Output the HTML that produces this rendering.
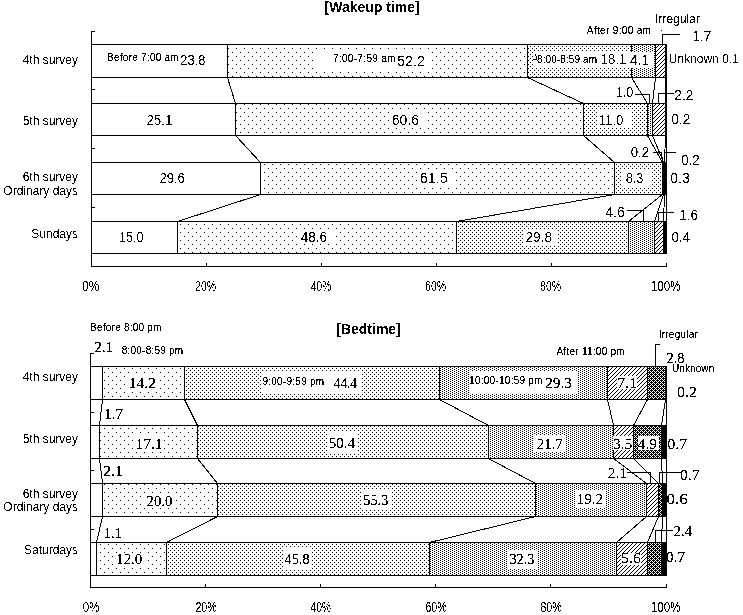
<!DOCTYPE html>
<html><head><meta charset="utf-8"><style>html,body{margin:0;padding:0;background:#fff;width:743px;height:615px;overflow:hidden}svg{display:block}text{fill:#000}</style></head>
<body><svg width="743" height="615" viewBox="0 0 743 615" shape-rendering="crispEdges"><defs>
<pattern id="p8" width="8" height="8" patternUnits="userSpaceOnUse"><rect width="8" height="8" fill="#fff"/><rect x="0" y="4" width="1" height="1" fill="#000"/><rect x="4" y="0" width="1" height="1" fill="#000"/></pattern>
<pattern id="p4" width="4" height="4" patternUnits="userSpaceOnUse"><rect width="4" height="4" fill="#fff"/><rect x="0" y="0" width="1" height="1" fill="#000"/><rect x="2" y="2" width="1" height="1" fill="#000"/></pattern>
<pattern id="p25" width="4" height="2" patternUnits="userSpaceOnUse"><rect width="4" height="2" fill="#fff"/><rect x="0" y="0" width="1" height="1" fill="#000"/><rect x="2" y="1" width="1" height="1" fill="#000"/></pattern>
<pattern id="ph" width="4" height="4" patternUnits="userSpaceOnUse"><rect width="4" height="4" fill="#fff"/><rect x="3" y="0" width="1" height="1" fill="#000"/><rect x="2" y="1" width="1" height="1" fill="#000"/><rect x="1" y="2" width="1" height="1" fill="#000"/><rect x="0" y="3" width="1" height="1" fill="#000"/></pattern>
<pattern id="pc" width="4" height="4" patternUnits="userSpaceOnUse"><rect width="4" height="4" fill="#000"/><rect x="3" y="0" width="1" height="1" fill="#fff"/><rect x="0" y="1" width="1" height="1" fill="#fff"/><rect x="2" y="1" width="1" height="1" fill="#fff"/><rect x="1" y="2" width="1" height="1" fill="#fff"/><rect x="0" y="3" width="1" height="1" fill="#fff"/><rect x="2" y="3" width="1" height="1" fill="#fff"/></pattern>
<filter id="bin" x="0" y="0" width="743" height="615" filterUnits="userSpaceOnUse"><feComponentTransfer><feFuncA type="discrete" tableValues="0 1"/></feComponentTransfer></filter>
<filter id="bin3" x="0" y="0" width="743" height="615" filterUnits="userSpaceOnUse"><feComponentTransfer><feFuncA type="discrete" tableValues="0 0 1 1 1"/></feComponentTransfer></filter>
<filter id="bin2" x="0" y="0" width="743" height="615" filterUnits="userSpaceOnUse"><feComponentTransfer><feFuncA type="discrete" tableValues="0 1 1"/></feComponentTransfer></filter>
</defs><rect x="0" y="0" width="743" height="615" fill="#fff"/><rect x="91" y="44" width="136" height="33" fill="#fff"/><rect x="227" y="44" width="300" height="33" fill="url(#p8)"/><rect x="527" y="44" width="104" height="33" fill="url(#p4)"/><rect x="631" y="44" width="24" height="33" fill="url(#p25)"/><rect x="655" y="44" width="10" height="33" fill="url(#ph)"/><rect x="665" y="44" width="1" height="33" fill="#000"/><rect x="91" y="44" width="576" height="1"/><rect x="91" y="77" width="576" height="1"/><rect x="91" y="44" width="1" height="34"/><rect x="227" y="44" width="1" height="34"/><rect x="527" y="44" width="1" height="34"/><rect x="631" y="44" width="1" height="34"/><rect x="655" y="44" width="1" height="34"/><rect x="665" y="44" width="1" height="34"/><rect x="666" y="44" width="1" height="34"/><rect x="665" y="44" width="1" height="34"/><rect x="666" y="44" width="1" height="34"/><rect x="91" y="103" width="144" height="32" fill="#fff"/><rect x="235" y="103" width="348" height="32" fill="url(#p8)"/><rect x="583" y="103" width="64" height="32" fill="url(#p4)"/><rect x="647" y="103" width="5" height="32" fill="url(#p25)"/><rect x="652" y="103" width="13" height="32" fill="url(#ph)"/><rect x="665" y="103" width="1" height="32" fill="#000"/><rect x="91" y="103" width="576" height="1"/><rect x="91" y="135" width="576" height="1"/><rect x="91" y="103" width="1" height="33"/><rect x="235" y="103" width="1" height="33"/><rect x="583" y="103" width="1" height="33"/><rect x="647" y="103" width="1" height="33"/><rect x="652" y="103" width="1" height="33"/><rect x="665" y="103" width="1" height="33"/><rect x="666" y="103" width="1" height="33"/><rect x="665" y="103" width="1" height="33"/><rect x="666" y="103" width="1" height="33"/><rect x="91" y="162" width="169" height="32" fill="#fff"/><rect x="260" y="162" width="354" height="32" fill="url(#p8)"/><rect x="614" y="162" width="48" height="32" fill="url(#p4)"/><rect x="662" y="162" width="1" height="32" fill="url(#p25)"/><rect x="663" y="162" width="1" height="32" fill="url(#ph)"/><rect x="664" y="162" width="2" height="32" fill="#000"/><rect x="91" y="162" width="576" height="1"/><rect x="91" y="194" width="576" height="1"/><rect x="91" y="162" width="1" height="33"/><rect x="260" y="162" width="1" height="33"/><rect x="614" y="162" width="1" height="33"/><rect x="662" y="162" width="1" height="33"/><rect x="663" y="162" width="1" height="33"/><rect x="664" y="162" width="1" height="33"/><rect x="666" y="162" width="1" height="33"/><rect x="665" y="162" width="1" height="33"/><rect x="666" y="162" width="1" height="33"/><rect x="91" y="221" width="86" height="32" fill="#fff"/><rect x="177" y="221" width="279" height="32" fill="url(#p8)"/><rect x="456" y="221" width="172" height="32" fill="url(#p4)"/><rect x="628" y="221" width="26" height="32" fill="url(#p25)"/><rect x="654" y="221" width="9" height="32" fill="url(#ph)"/><rect x="663" y="221" width="3" height="32" fill="#000"/><rect x="91" y="221" width="576" height="1"/><rect x="91" y="253" width="576" height="1"/><rect x="91" y="221" width="1" height="33"/><rect x="177" y="221" width="1" height="33"/><rect x="456" y="221" width="1" height="33"/><rect x="628" y="221" width="1" height="33"/><rect x="654" y="221" width="1" height="33"/><rect x="663" y="221" width="1" height="33"/><rect x="666" y="221" width="1" height="33"/><rect x="665" y="221" width="1" height="33"/><rect x="666" y="221" width="1" height="33"/><line x1="227.5" y1="77.5" x2="235.5" y2="103.5" stroke="#000" stroke-width="1"/><line x1="527.5" y1="77.5" x2="583.5" y2="103.5" stroke="#000" stroke-width="1"/><line x1="631.5" y1="77.5" x2="647.5" y2="103.5" stroke="#000" stroke-width="1"/><line x1="655.5" y1="77.5" x2="652.5" y2="103.5" stroke="#000" stroke-width="1"/><line x1="665.5" y1="77.5" x2="665.5" y2="103.5" stroke="#000" stroke-width="1"/><rect x="666" y="77" width="1" height="27"/><line x1="235.5" y1="135.5" x2="260.5" y2="162.5" stroke="#000" stroke-width="1"/><line x1="583.5" y1="135.5" x2="614.5" y2="162.5" stroke="#000" stroke-width="1"/><line x1="647.5" y1="135.5" x2="662.5" y2="162.5" stroke="#000" stroke-width="1"/><line x1="652.5" y1="135.5" x2="663.5" y2="162.5" stroke="#000" stroke-width="1"/><line x1="665.5" y1="135.5" x2="664.5" y2="162.5" stroke="#000" stroke-width="1"/><rect x="666" y="135" width="1" height="28"/><line x1="260.5" y1="194.5" x2="177.5" y2="221.5" stroke="#000" stroke-width="1"/><line x1="614.5" y1="194.5" x2="456.5" y2="221.5" stroke="#000" stroke-width="1"/><line x1="662.5" y1="194.5" x2="628.5" y2="221.5" stroke="#000" stroke-width="1"/><line x1="663.5" y1="194.5" x2="654.5" y2="221.5" stroke="#000" stroke-width="1"/><line x1="664.5" y1="194.5" x2="663.5" y2="221.5" stroke="#000" stroke-width="1"/><rect x="666" y="194" width="1" height="28"/><rect x="91" y="31" width="1" height="236"/><rect x="91" y="31" width="4" height="1"/><rect x="91" y="89" width="4" height="1"/><rect x="91" y="148" width="4" height="1"/><rect x="91" y="207" width="4" height="1"/><rect x="91" y="266" width="576" height="1"/><rect x="206" y="263" width="1" height="4"/><rect x="321" y="263" width="1" height="4"/><rect x="436" y="263" width="1" height="4"/><rect x="551" y="263" width="1" height="4"/><rect x="666" y="263" width="1" height="4"/><rect x="315" y="49" width="114" height="22" fill="#fff"/><rect x="533" y="52" width="99" height="16" fill="#fff"/><rect x="632" y="52" width="22" height="16" fill="#fff"/><rect x="390" y="110" width="35" height="18" fill="#fff"/><rect x="597" y="110" width="35" height="18" fill="#fff"/><rect x="417" y="169" width="38" height="18" fill="#fff"/><rect x="622" y="170" width="29" height="17" fill="#fff"/><rect x="298" y="229" width="37" height="15" fill="#fff"/><rect x="523" y="229" width="35" height="17" fill="#fff"/><rect x="662" y="34" width="18" height="1"/><rect x="662" y="34" width="1" height="11"/><rect x="661" y="30" width="1" height="1" fill="#000"/><rect x="533" y="59" width="4" height="1"/><rect x="536" y="56" width="1" height="4"/><rect x="535" y="54" width="1" height="2"/><rect x="635" y="94" width="15" height="1"/><rect x="649" y="94" width="1" height="10"/><rect x="658" y="93" width="16" height="1"/><rect x="658" y="93" width="1" height="11"/><rect x="653" y="152" width="9" height="1"/><line x1="661.5" y1="152.5" x2="662.5" y2="162" stroke="#000" stroke-width="1"/><rect x="664" y="152" width="12" height="1"/><rect x="627" y="210" width="17" height="1"/><rect x="643" y="210" width="1" height="12"/><rect x="658" y="212" width="16" height="1"/><rect x="658" y="212" width="1" height="10"/><rect x="90" y="366" width="12" height="33" fill="#fff"/><rect x="102" y="366" width="82" height="33" fill="url(#p8)"/><rect x="184" y="366" width="255" height="33" fill="url(#p4)"/><rect x="439" y="366" width="168" height="33" fill="url(#p25)"/><rect x="607" y="366" width="40" height="33" fill="url(#ph)"/><rect x="647" y="366" width="18" height="33" fill="url(#pc)"/><rect x="665" y="366" width="1" height="33" fill="#000"/><rect x="90" y="366" width="577" height="1"/><rect x="90" y="399" width="577" height="1"/><rect x="90" y="366" width="1" height="34"/><rect x="102" y="366" width="1" height="34"/><rect x="184" y="366" width="1" height="34"/><rect x="439" y="366" width="1" height="34"/><rect x="607" y="366" width="1" height="34"/><rect x="647" y="366" width="1" height="34"/><rect x="665" y="366" width="1" height="34"/><rect x="666" y="366" width="1" height="34"/><rect x="665" y="366" width="1" height="34"/><rect x="666" y="366" width="1" height="34"/><rect x="90" y="425" width="9" height="33" fill="#fff"/><rect x="99" y="425" width="98" height="33" fill="url(#p8)"/><rect x="197" y="425" width="291" height="33" fill="url(#p4)"/><rect x="488" y="425" width="125" height="33" fill="url(#p25)"/><rect x="613" y="425" width="20" height="33" fill="url(#ph)"/><rect x="633" y="425" width="28" height="33" fill="url(#pc)"/><rect x="661" y="425" width="5" height="33" fill="#000"/><rect x="90" y="425" width="577" height="1"/><rect x="90" y="458" width="577" height="1"/><rect x="90" y="425" width="1" height="34"/><rect x="99" y="425" width="1" height="34"/><rect x="197" y="425" width="1" height="34"/><rect x="488" y="425" width="1" height="34"/><rect x="613" y="425" width="1" height="34"/><rect x="633" y="425" width="1" height="34"/><rect x="661" y="425" width="1" height="34"/><rect x="666" y="425" width="1" height="34"/><rect x="665" y="425" width="1" height="34"/><rect x="666" y="425" width="1" height="34"/><rect x="90" y="483" width="12" height="33" fill="#fff"/><rect x="102" y="483" width="115" height="33" fill="url(#p8)"/><rect x="217" y="483" width="318" height="33" fill="url(#p4)"/><rect x="535" y="483" width="111" height="33" fill="url(#p25)"/><rect x="646" y="483" width="12" height="33" fill="url(#ph)"/><rect x="658" y="483" width="4" height="33" fill="url(#pc)"/><rect x="662" y="483" width="4" height="33" fill="#000"/><rect x="90" y="483" width="577" height="1"/><rect x="90" y="516" width="577" height="1"/><rect x="90" y="483" width="1" height="34"/><rect x="102" y="483" width="1" height="34"/><rect x="217" y="483" width="1" height="34"/><rect x="535" y="483" width="1" height="34"/><rect x="646" y="483" width="1" height="34"/><rect x="658" y="483" width="1" height="34"/><rect x="662" y="483" width="1" height="34"/><rect x="666" y="483" width="1" height="34"/><rect x="665" y="483" width="1" height="34"/><rect x="666" y="483" width="1" height="34"/><rect x="90" y="542" width="6" height="33" fill="#fff"/><rect x="96" y="542" width="70" height="33" fill="url(#p8)"/><rect x="166" y="542" width="263" height="33" fill="url(#p4)"/><rect x="429" y="542" width="187" height="33" fill="url(#p25)"/><rect x="616" y="542" width="31" height="33" fill="url(#ph)"/><rect x="647" y="542" width="14" height="33" fill="url(#pc)"/><rect x="661" y="542" width="5" height="33" fill="#000"/><rect x="90" y="542" width="577" height="1"/><rect x="90" y="575" width="577" height="1"/><rect x="90" y="542" width="1" height="34"/><rect x="96" y="542" width="1" height="34"/><rect x="166" y="542" width="1" height="34"/><rect x="429" y="542" width="1" height="34"/><rect x="616" y="542" width="1" height="34"/><rect x="647" y="542" width="1" height="34"/><rect x="661" y="542" width="1" height="34"/><rect x="666" y="542" width="1" height="34"/><rect x="665" y="542" width="1" height="34"/><rect x="666" y="542" width="1" height="34"/><line x1="102.5" y1="399.5" x2="99.5" y2="425.5" stroke="#000" stroke-width="1"/><line x1="184.5" y1="399.5" x2="197.5" y2="425.5" stroke="#000" stroke-width="1"/><line x1="439.5" y1="399.5" x2="488.5" y2="425.5" stroke="#000" stroke-width="1"/><line x1="607.5" y1="399.5" x2="613.5" y2="425.5" stroke="#000" stroke-width="1"/><line x1="647.5" y1="399.5" x2="633.5" y2="425.5" stroke="#000" stroke-width="1"/><line x1="665.5" y1="399.5" x2="661.5" y2="425.5" stroke="#000" stroke-width="1"/><rect x="666" y="399" width="1" height="27"/><line x1="99.5" y1="458.5" x2="102.5" y2="483.5" stroke="#000" stroke-width="1"/><line x1="197.5" y1="458.5" x2="217.5" y2="483.5" stroke="#000" stroke-width="1"/><line x1="488.5" y1="458.5" x2="535.5" y2="483.5" stroke="#000" stroke-width="1"/><line x1="613.5" y1="458.5" x2="646.5" y2="483.5" stroke="#000" stroke-width="1"/><line x1="633.5" y1="458.5" x2="658.5" y2="483.5" stroke="#000" stroke-width="1"/><line x1="661.5" y1="458.5" x2="662.5" y2="483.5" stroke="#000" stroke-width="1"/><rect x="666" y="458" width="1" height="26"/><line x1="102.5" y1="516.5" x2="96.5" y2="542.5" stroke="#000" stroke-width="1"/><line x1="217.5" y1="516.5" x2="166.5" y2="542.5" stroke="#000" stroke-width="1"/><line x1="535.5" y1="516.5" x2="429.5" y2="542.5" stroke="#000" stroke-width="1"/><line x1="646.5" y1="516.5" x2="616.5" y2="542.5" stroke="#000" stroke-width="1"/><line x1="658.5" y1="516.5" x2="647.5" y2="542.5" stroke="#000" stroke-width="1"/><line x1="662.5" y1="516.5" x2="661.5" y2="542.5" stroke="#000" stroke-width="1"/><rect x="666" y="516" width="1" height="27"/><rect x="90" y="353" width="1" height="235"/><rect x="90" y="353" width="4" height="1"/><rect x="90" y="412" width="4" height="1"/><rect x="90" y="470" width="4" height="1"/><rect x="90" y="529" width="4" height="1"/><rect x="90" y="587" width="577" height="1"/><rect x="205" y="584" width="1" height="4"/><rect x="320" y="584" width="1" height="4"/><rect x="435" y="584" width="1" height="4"/><rect x="550" y="584" width="1" height="4"/><rect x="666" y="584" width="1" height="4"/><rect x="126" y="374" width="32" height="18" fill="#fff"/><rect x="261" y="371" width="100" height="23" fill="#fff"/><rect x="469" y="371" width="108" height="23" fill="#fff"/><rect x="617" y="376" width="20" height="13" fill="#fff"/><rect x="621" y="553" width="20" height="12" fill="#fff"/><rect x="133" y="434" width="31" height="18" fill="#fff"/><rect x="328" y="431" width="30" height="23" fill="#fff"/><rect x="534" y="435" width="32" height="17" fill="#fff"/><rect x="613" y="436" width="20" height="14" fill="#fff"/><rect x="638" y="436" width="21" height="14" fill="#fff"/><rect x="143" y="494" width="32" height="13" fill="#fff"/><rect x="361" y="490" width="31" height="20" fill="#fff"/><rect x="575" y="490" width="31" height="18" fill="#fff"/><rect x="116" y="553" width="30" height="14" fill="#fff"/><rect x="283" y="548" width="29" height="21" fill="#fff"/><rect x="507" y="550" width="31" height="19" fill="#fff"/><rect x="655" y="344" width="1" height="24"/><rect x="655" y="344" width="5" height="1"/><rect x="627" y="472" width="24" height="1"/><rect x="650" y="472" width="1" height="12"/><rect x="659" y="472" width="22" height="1"/><rect x="659" y="472" width="1" height="12"/><rect x="655" y="530" width="18" height="1"/><rect x="655" y="530" width="1" height="13"/><text id="t0" filter="url(#bin)" x="324.55" y="11.80" font-family="Liberation Sans" font-size="14" text-anchor="start" font-weight="bold">[Wakeup time]</text><text id="t1" filter="url(#bin)" x="78.00" y="64.18" font-family="Liberation Sans" font-size="12" text-anchor="end" font-weight="normal">4th survey</text><text id="t2" filter="url(#bin)" x="78.00" y="125.07" font-family="Liberation Sans" font-size="12" text-anchor="end" font-weight="normal">5th survey</text><text id="t3" filter="url(#bin)" x="78.00" y="181.31" font-family="Liberation Sans" font-size="12" text-anchor="end" font-weight="normal">6th survey</text><text id="t4" filter="url(#bin)" x="78.00" y="194.76" font-family="Liberation Sans" font-size="12" text-anchor="end" font-weight="normal">Ordinary days</text><text id="t5" filter="url(#bin)" x="78.00" y="237.93" font-family="Liberation Sans" font-size="12" text-anchor="end" font-weight="normal">Sundays</text><text id="t6" filter="url(#bin3)" x="107.08" y="61.41" font-family="Liberation Sans" font-size="10" text-anchor="start" font-weight="normal" textLength="71.63" lengthAdjust="spacing">Before 7:00 am</text><text id="t7" filter="url(#bin3)" x="332.89" y="62.10" font-family="Liberation Sans" font-size="10" text-anchor="start" font-weight="normal" textLength="62.64" lengthAdjust="spacing">7:00-7:59 am</text><text id="t8" filter="url(#bin3)" x="537.00" y="62.80" font-family="Liberation Sans" font-size="10" text-anchor="start" font-weight="normal" textLength="60.08" lengthAdjust="spacing">8:00-8:59 am</text><text id="t9" filter="url(#bin3)" x="586.84" y="33.74" font-family="Liberation Sans" font-size="10" text-anchor="start" font-weight="normal" textLength="64.07" lengthAdjust="spacing">After 9:00 am</text><text id="t10" filter="url(#bin)" x="655.12" y="23.35" font-family="Liberation Sans" font-size="12" text-anchor="start" font-weight="normal">Irregular</text><text id="t11" filter="url(#bin)" x="668.82" y="62.80" font-family="Liberation Sans" font-size="12" text-anchor="start" font-weight="normal">Unknown 0.1</text><text id="t12" filter="url(#bin)" x="180.26" y="64.78" font-family="Liberation Sans" font-size="14" text-anchor="start" font-weight="normal" textLength="25.14" lengthAdjust="spacingAndGlyphs">23.8</text><text id="t13" filter="url(#bin)" x="397.31" y="65.79" font-family="Liberation Sans" font-size="14" text-anchor="start" font-weight="normal" textLength="27.52" lengthAdjust="spacingAndGlyphs">52.2</text><text id="t14" filter="url(#bin)" x="600.78" y="64.00" font-family="Liberation Sans" font-size="14" text-anchor="start" font-weight="normal" textLength="25.65" lengthAdjust="spacingAndGlyphs">18.1</text><text id="t15" filter="url(#bin)" x="630.00" y="64.71" font-family="Liberation Sans" font-size="14" text-anchor="start" font-weight="normal" textLength="19.00" lengthAdjust="spacingAndGlyphs">4.1</text><text id="t16" filter="url(#bin)" x="692.52" y="40.90" font-family="Liberation Sans" font-size="14" text-anchor="start" font-weight="normal" textLength="18.61" lengthAdjust="spacingAndGlyphs">1.7</text><text id="t17" filter="url(#bin)" x="146.42" y="124.91" font-family="Liberation Sans" font-size="14" text-anchor="start" font-weight="normal" textLength="25.95" lengthAdjust="spacingAndGlyphs">25.1</text><text id="t18" filter="url(#bin)" x="391.78" y="124.91" font-family="Liberation Sans" font-size="14" text-anchor="start" font-weight="normal" textLength="27.44" lengthAdjust="spacingAndGlyphs">60.6</text><text id="t19" filter="url(#bin)" x="598.73" y="124.91" font-family="Liberation Sans" font-size="14" text-anchor="start" font-weight="normal" textLength="24.70" lengthAdjust="spacingAndGlyphs">11.0</text><text id="t20" filter="url(#bin)" x="615.89" y="96.79" font-family="Liberation Sans" font-size="14" text-anchor="start" font-weight="normal" textLength="17.48" lengthAdjust="spacingAndGlyphs">1.0</text><text id="t21" filter="url(#bin)" x="674.26" y="100.18" font-family="Liberation Sans" font-size="14" text-anchor="start" font-weight="normal" textLength="19.12" lengthAdjust="spacingAndGlyphs">2.2</text><text id="t22" filter="url(#bin)" x="671.26" y="124.00" font-family="Liberation Sans" font-size="14" text-anchor="start" font-weight="normal" textLength="19.06" lengthAdjust="spacingAndGlyphs">0.2</text><text id="t23" filter="url(#bin)" x="159.42" y="182.91" font-family="Liberation Sans" font-size="14" text-anchor="start" font-weight="normal" textLength="25.45" lengthAdjust="spacingAndGlyphs">29.6</text><text id="t24" filter="url(#bin)" x="419.89" y="182.91" font-family="Liberation Sans" font-size="14" text-anchor="start" font-weight="normal" textLength="27.88" lengthAdjust="spacingAndGlyphs">61.5</text><text id="t25" filter="url(#bin)" x="625.63" y="183.07" font-family="Liberation Sans" font-size="14" text-anchor="start" font-weight="normal" textLength="17.80" lengthAdjust="spacingAndGlyphs">8.3</text><text id="t26" filter="url(#bin)" x="630.63" y="157.41" font-family="Liberation Sans" font-size="14" text-anchor="start" font-weight="normal" textLength="18.46" lengthAdjust="spacingAndGlyphs">0.2</text><text id="t27" filter="url(#bin)" x="681.26" y="164.71" font-family="Liberation Sans" font-size="14" text-anchor="start" font-weight="normal" textLength="18.50" lengthAdjust="spacingAndGlyphs">0.2</text><text id="t28" filter="url(#bin)" x="670.26" y="183.07" font-family="Liberation Sans" font-size="14" text-anchor="start" font-weight="normal" textLength="19.50" lengthAdjust="spacingAndGlyphs">0.3</text><text id="t29" filter="url(#bin)" x="118.89" y="242.34" font-family="Liberation Sans" font-size="14" text-anchor="start" font-weight="normal" textLength="24.75" lengthAdjust="spacingAndGlyphs">15.0</text><text id="t30" filter="url(#bin)" x="300.79" y="242.34" font-family="Liberation Sans" font-size="14" text-anchor="start" font-weight="normal" textLength="26.30" lengthAdjust="spacingAndGlyphs">48.6</text><text id="t31" filter="url(#bin)" x="525.42" y="241.91" font-family="Liberation Sans" font-size="14" text-anchor="start" font-weight="normal" textLength="26.57" lengthAdjust="spacingAndGlyphs">29.8</text><text id="t32" filter="url(#bin)" x="605.26" y="217.00" font-family="Liberation Sans" font-size="14" text-anchor="start" font-weight="normal" textLength="19.68" lengthAdjust="spacingAndGlyphs">4.6</text><text id="t33" filter="url(#bin)" x="679.15" y="219.59" font-family="Liberation Sans" font-size="14" text-anchor="start" font-weight="normal" textLength="19.10" lengthAdjust="spacingAndGlyphs">1.6</text><text id="t34" filter="url(#bin)" x="671.42" y="241.91" font-family="Liberation Sans" font-size="14" text-anchor="start" font-weight="normal" textLength="18.57" lengthAdjust="spacingAndGlyphs">0.4</text><text id="t35" filter="url(#bin)" x="82.12" y="291.00" font-family="Liberation Sans" font-size="14" text-anchor="start" font-weight="normal" textLength="17.24" lengthAdjust="spacingAndGlyphs">0%</text><text id="t36" filter="url(#bin)" x="195.10" y="291.00" font-family="Liberation Sans" font-size="14" text-anchor="start" font-weight="normal" textLength="21.00" lengthAdjust="spacingAndGlyphs">20%</text><text id="t37" filter="url(#bin)" x="311.00" y="291.00" font-family="Liberation Sans" font-size="14" text-anchor="start" font-weight="normal" textLength="20.05" lengthAdjust="spacingAndGlyphs">40%</text><text id="t38" filter="url(#bin)" x="425.10" y="291.00" font-family="Liberation Sans" font-size="14" text-anchor="start" font-weight="normal" textLength="21.00" lengthAdjust="spacingAndGlyphs">60%</text><text id="t39" filter="url(#bin)" x="540.10" y="291.00" font-family="Liberation Sans" font-size="14" text-anchor="start" font-weight="normal" textLength="21.00" lengthAdjust="spacingAndGlyphs">80%</text><text id="t40" filter="url(#bin)" x="650.75" y="291.00" font-family="Liberation Sans" font-size="14" text-anchor="start" font-weight="normal" textLength="29.87" lengthAdjust="spacingAndGlyphs">100%</text><text id="t41" filter="url(#bin)" x="336.22" y="333.62" font-family="Liberation Sans" font-size="14" text-anchor="start" font-weight="bold">[Bedtime]</text><text id="t42" filter="url(#bin)" x="78.00" y="381.30" font-family="Liberation Sans" font-size="12" text-anchor="end" font-weight="normal">4th survey</text><text id="t43" filter="url(#bin)" x="78.00" y="443.26" font-family="Liberation Sans" font-size="12" text-anchor="end" font-weight="normal">5th survey</text><text id="t44" filter="url(#bin)" x="78.00" y="497.57" font-family="Liberation Sans" font-size="12" text-anchor="end" font-weight="normal">6th survey</text><text id="t45" filter="url(#bin)" x="78.00" y="510.89" font-family="Liberation Sans" font-size="12" text-anchor="end" font-weight="normal">Ordinary days</text><text id="t46" filter="url(#bin)" x="78.00" y="554.48" font-family="Liberation Sans" font-size="12" text-anchor="end" font-weight="normal">Saturdays</text><text id="t47" filter="url(#bin3)" x="90.10" y="330.86" font-family="Liberation Sans" font-size="10" text-anchor="start" font-weight="normal" textLength="71.41" lengthAdjust="spacing">Before 8:00 pm</text><text id="t48" filter="url(#bin3)" x="121.79" y="354.35" font-family="Liberation Sans" font-size="10" text-anchor="start" font-weight="normal" textLength="61.35" lengthAdjust="spacing">8:00-8:59 pm</text><text id="t49" filter="url(#bin3)" x="262.42" y="384.61" font-family="Liberation Sans" font-size="10" text-anchor="start" font-weight="normal" textLength="61.73" lengthAdjust="spacing">9:00-9:59 pm</text><text id="t50" filter="url(#bin3)" x="469.10" y="383.66" font-family="Liberation Sans" font-size="10" text-anchor="start" font-weight="normal" textLength="73.41" lengthAdjust="spacing">10:00-10:59 pm</text><text id="t51" filter="url(#bin3)" x="556.42" y="354.79" font-family="Liberation Sans" font-size="10" text-anchor="start" font-weight="normal" textLength="68.27" lengthAdjust="spacing">After 11:00 pm</text><text id="t52" filter="url(#bin3)" x="658.73" y="337.98" font-family="Liberation Sans" font-size="10" text-anchor="start" font-weight="normal" textLength="39.08" lengthAdjust="spacing">Irregular</text><text id="t53" filter="url(#bin3)" x="671.89" y="371.70" font-family="Liberation Sans" font-size="10" text-anchor="start" font-weight="normal" textLength="42.33" lengthAdjust="spacing">Unknown</text><text id="t54" filter="url(#bin3)" x="94.63" y="352.25" font-family="Liberation Serif" font-size="14" text-anchor="start" font-weight="normal" textLength="18.16" lengthAdjust="spacingAndGlyphs">2.1</text><text id="t55" filter="url(#bin3)" x="128.78" y="388.00" font-family="Liberation Serif" font-size="14" text-anchor="start" font-weight="normal" textLength="27.15" lengthAdjust="spacingAndGlyphs">14.2</text><text id="t56" filter="url(#bin3)" x="333.79" y="388.34" font-family="Liberation Serif" font-size="14" text-anchor="start" font-weight="normal" textLength="23.13" lengthAdjust="spacingAndGlyphs">44.4</text><text id="t57" filter="url(#bin3)" x="545.26" y="388.34" font-family="Liberation Serif" font-size="14" text-anchor="start" font-weight="normal" textLength="26.65" lengthAdjust="spacingAndGlyphs">29.3</text><text id="t58" filter="url(#bin3)" x="617.05" y="388.14" font-family="Liberation Serif" font-size="14" text-anchor="start" font-weight="normal" textLength="20.15" lengthAdjust="spacingAndGlyphs">7.1</text><text id="t59" filter="url(#bin3)" x="666.42" y="362.92" font-family="Liberation Serif" font-size="14" text-anchor="start" font-weight="normal" textLength="18.13" lengthAdjust="spacingAndGlyphs">2.8</text><text id="t60" filter="url(#bin3)" x="677.10" y="396.53" font-family="Liberation Serif" font-size="14" text-anchor="start" font-weight="normal" textLength="19.98" lengthAdjust="spacingAndGlyphs">0.2</text><text id="t61" filter="url(#bin3)" x="104.15" y="419.26" font-family="Liberation Serif" font-size="14" text-anchor="start" font-weight="normal" textLength="18.77" lengthAdjust="spacingAndGlyphs">1.7</text><text id="t62" filter="url(#bin3)" x="135.52" y="449.26" font-family="Liberation Serif" font-size="14" text-anchor="start" font-weight="normal" textLength="26.91" lengthAdjust="spacingAndGlyphs">17.1</text><text id="t63" filter="url(#bin3)" x="328.73" y="447.64" font-family="Liberation Serif" font-size="14" text-anchor="start" font-weight="normal" textLength="26.30" lengthAdjust="spacingAndGlyphs">50.4</text><text id="t64" filter="url(#bin3)" x="536.68" y="449.26" font-family="Liberation Serif" font-size="14" text-anchor="start" font-weight="normal" textLength="26.15" lengthAdjust="spacingAndGlyphs">21.7</text><text id="t65" filter="url(#bin3)" x="613.10" y="449.26" font-family="Liberation Serif" font-size="14" text-anchor="start" font-weight="normal" textLength="19.11" lengthAdjust="spacingAndGlyphs">3.5</text><text id="t66" filter="url(#bin3)" x="637.84" y="449.26" font-family="Liberation Serif" font-size="14" text-anchor="start" font-weight="normal" textLength="19.20" lengthAdjust="spacingAndGlyphs">4.9</text><text id="t67" filter="url(#bin3)" x="667.31" y="449.26" font-family="Liberation Serif" font-size="14" text-anchor="start" font-weight="normal" textLength="19.91" lengthAdjust="spacingAndGlyphs">0.7</text><text id="t68" filter="url(#bin3)" x="103.26" y="476.44" font-family="Liberation Serif" font-size="14" text-anchor="start" font-weight="normal" textLength="19.48" lengthAdjust="spacingAndGlyphs">2.1</text><text id="t69" filter="url(#bin3)" x="146.63" y="505.63" font-family="Liberation Serif" font-size="14" text-anchor="start" font-weight="normal" textLength="25.80" lengthAdjust="spacingAndGlyphs">20.0</text><text id="t70" filter="url(#bin3)" x="363.26" y="504.70" font-family="Liberation Serif" font-size="14" text-anchor="start" font-weight="normal" textLength="25.06" lengthAdjust="spacingAndGlyphs">55.3</text><text id="t71" filter="url(#bin3)" x="576.57" y="504.34" font-family="Liberation Serif" font-size="14" text-anchor="start" font-weight="normal" textLength="26.59" lengthAdjust="spacingAndGlyphs">19.2</text><text id="t72" filter="url(#bin3)" x="607.68" y="477.91" font-family="Liberation Serif" font-size="14" text-anchor="start" font-weight="normal" textLength="19.38" lengthAdjust="spacingAndGlyphs">2.1</text><text id="t73" filter="url(#bin3)" x="680.10" y="479.60" font-family="Liberation Serif" font-size="14" text-anchor="start" font-weight="normal" textLength="19.41" lengthAdjust="spacingAndGlyphs">0.7</text><text id="t74" filter="url(#bin3)" x="666.31" y="503.86" font-family="Liberation Serif" font-size="14" text-anchor="start" font-weight="normal" textLength="21.76" lengthAdjust="spacingAndGlyphs">0.6</text><text id="t75" filter="url(#bin3)" x="103.73" y="537.63" font-family="Liberation Serif" font-size="14" text-anchor="start" font-weight="normal" textLength="18.05" lengthAdjust="spacingAndGlyphs">1.1</text><text id="t76" filter="url(#bin3)" x="116.25" y="564.08" font-family="Liberation Serif" font-size="14" text-anchor="start" font-weight="normal" textLength="26.00" lengthAdjust="spacingAndGlyphs">12.0</text><text id="t77" filter="url(#bin3)" x="284.63" y="564.37" font-family="Liberation Serif" font-size="14" text-anchor="start" font-weight="normal" textLength="24.86" lengthAdjust="spacingAndGlyphs">45.8</text><text id="t78" filter="url(#bin3)" x="509.42" y="564.34" font-family="Liberation Serif" font-size="14" text-anchor="start" font-weight="normal" textLength="24.95" lengthAdjust="spacingAndGlyphs">32.3</text><text id="t79" filter="url(#bin3)" x="621.10" y="563.13" font-family="Liberation Serif" font-size="14" text-anchor="start" font-weight="normal" textLength="19.73" lengthAdjust="spacingAndGlyphs">5.6</text><text id="t80" filter="url(#bin3)" x="673.42" y="535.99" font-family="Liberation Serif" font-size="14" text-anchor="start" font-weight="normal" textLength="18.74" lengthAdjust="spacingAndGlyphs">2.4</text><text id="t81" filter="url(#bin3)" x="666.10" y="562.10" font-family="Liberation Serif" font-size="14" text-anchor="start" font-weight="normal" textLength="19.11" lengthAdjust="spacingAndGlyphs">0.7</text><text id="t82" filter="url(#bin)" x="82.86" y="611.91" font-family="Liberation Sans" font-size="14" text-anchor="start" font-weight="normal" textLength="16.58" lengthAdjust="spacingAndGlyphs">0%</text><text id="t83" filter="url(#bin)" x="195.42" y="611.91" font-family="Liberation Sans" font-size="14" text-anchor="start" font-weight="normal" textLength="21.27" lengthAdjust="spacingAndGlyphs">20%</text><text id="t84" filter="url(#bin)" x="310.42" y="611.91" font-family="Liberation Sans" font-size="14" text-anchor="start" font-weight="normal" textLength="20.61" lengthAdjust="spacingAndGlyphs">40%</text><text id="t85" filter="url(#bin)" x="425.42" y="611.91" font-family="Liberation Sans" font-size="14" text-anchor="start" font-weight="normal" textLength="21.27" lengthAdjust="spacingAndGlyphs">60%</text><text id="t86" filter="url(#bin)" x="540.42" y="611.91" font-family="Liberation Sans" font-size="14" text-anchor="start" font-weight="normal" textLength="21.27" lengthAdjust="spacingAndGlyphs">80%</text><text id="t87" filter="url(#bin)" x="650.75" y="611.91" font-family="Liberation Sans" font-size="14" text-anchor="start" font-weight="normal" textLength="29.87" lengthAdjust="spacingAndGlyphs">100%</text></svg></body></html>
